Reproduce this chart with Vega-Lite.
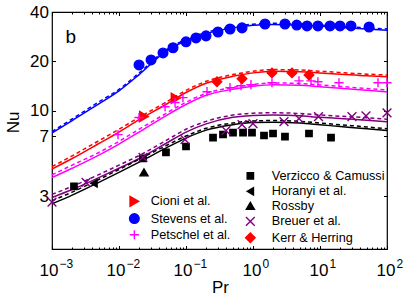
{
  "$schema": "https://vega.github.io/schema/vega-lite/v6.json",
  "width": 335,
  "height": 237,
  "autosize": {"type": "none"},
  "padding": {"left": 52, "top": 12, "right": 20, "bottom": 56},
  "config": {
    "font": "Liberation Sans",
    "view": {"stroke": "black", "strokeWidth": 1.2},
    "axis": {"domain": false, "grid": false, "tickColor": "black", "tickWidth": 1, "labelColor": "black", "titleColor": "black", "labelFont": "Liberation Sans", "titleFont": "Liberation Sans", "labelOverlap": false, "labelFlush": false, "labelBound": false}
  },
  "datasets": {
    "curves": [
      {"Pr": 0.001, "Nu": 7.3, "curve": "c1", "model": "A"}, {"Pr": 0.002, "Nu": 8.7, "curve": "c1", "model": "A"}, {"Pr": 0.005, "Nu": 11.0, "curve": "c1", "model": "A"}, {"Pr": 0.01, "Nu": 13.2, "curve": "c1", "model": "A"}, {"Pr": 0.02, "Nu": 16.6, "curve": "c1", "model": "A"}, {"Pr": 0.05, "Nu": 23.0, "curve": "c1", "model": "A"}, {"Pr": 0.1, "Nu": 26.8, "curve": "c1", "model": "A"}, {"Pr": 0.2, "Nu": 29.5, "curve": "c1", "model": "A"}, {"Pr": 0.5, "Nu": 32.0, "curve": "c1", "model": "A"}, {"Pr": 1, "Nu": 33.2, "curve": "c1", "model": "A"}, {"Pr": 2, "Nu": 33.6, "curve": "c1", "model": "A"}, {"Pr": 5, "Nu": 33.3, "curve": "c1", "model": "A"}, {"Pr": 10, "Nu": 32.8, "curve": "c1", "model": "A"}, {"Pr": 20, "Nu": 32.2, "curve": "c1", "model": "A"}, {"Pr": 50, "Nu": 31.5, "curve": "c1", "model": "A"}, {"Pr": 100, "Nu": 31.0, "curve": "c1", "model": "A"},
      {"Pr": 0.001, "Nu": 7.45, "curve": "c1", "model": "B"}, {"Pr": 0.002, "Nu": 8.9, "curve": "c1", "model": "B"}, {"Pr": 0.005, "Nu": 11.3, "curve": "c1", "model": "B"}, {"Pr": 0.01, "Nu": 13.5, "curve": "c1", "model": "B"}, {"Pr": 0.02, "Nu": 17.0, "curve": "c1", "model": "B"}, {"Pr": 0.05, "Nu": 23.4, "curve": "c1", "model": "B"}, {"Pr": 0.1, "Nu": 27.2, "curve": "c1", "model": "B"}, {"Pr": 0.2, "Nu": 30.0, "curve": "c1", "model": "B"}, {"Pr": 0.5, "Nu": 32.5, "curve": "c1", "model": "B"}, {"Pr": 1, "Nu": 33.7, "curve": "c1", "model": "B"}, {"Pr": 2, "Nu": 34.1, "curve": "c1", "model": "B"}, {"Pr": 5, "Nu": 33.8, "curve": "c1", "model": "B"}, {"Pr": 10, "Nu": 33.3, "curve": "c1", "model": "B"}, {"Pr": 20, "Nu": 32.7, "curve": "c1", "model": "B"}, {"Pr": 50, "Nu": 32.0, "curve": "c1", "model": "B"}, {"Pr": 100, "Nu": 31.5, "curve": "c1", "model": "B"},
      {"Pr": 0.001, "Nu": 4.4, "curve": "c2", "model": "A"}, {"Pr": 0.002, "Nu": 5.1, "curve": "c2", "model": "A"}, {"Pr": 0.005, "Nu": 6.3, "curve": "c2", "model": "A"}, {"Pr": 0.01, "Nu": 7.4, "curve": "c2", "model": "A"}, {"Pr": 0.02, "Nu": 8.8, "curve": "c2", "model": "A"}, {"Pr": 0.05, "Nu": 10.9, "curve": "c2", "model": "A"}, {"Pr": 0.1, "Nu": 12.9, "curve": "c2", "model": "A"}, {"Pr": 0.2, "Nu": 14.7, "curve": "c2", "model": "A"}, {"Pr": 0.5, "Nu": 16.2, "curve": "c2", "model": "A"}, {"Pr": 1, "Nu": 17.0, "curve": "c2", "model": "A"}, {"Pr": 2, "Nu": 17.4, "curve": "c2", "model": "A"}, {"Pr": 5, "Nu": 17.3, "curve": "c2", "model": "A"}, {"Pr": 10, "Nu": 17.0, "curve": "c2", "model": "A"}, {"Pr": 20, "Nu": 16.7, "curve": "c2", "model": "A"}, {"Pr": 50, "Nu": 16.3, "curve": "c2", "model": "A"}, {"Pr": 100, "Nu": 16.1, "curve": "c2", "model": "A"},
      {"Pr": 0.001, "Nu": 4.55, "curve": "c2", "model": "B"}, {"Pr": 0.002, "Nu": 5.3, "curve": "c2", "model": "B"}, {"Pr": 0.005, "Nu": 6.55, "curve": "c2", "model": "B"}, {"Pr": 0.01, "Nu": 7.7, "curve": "c2", "model": "B"}, {"Pr": 0.02, "Nu": 9.1, "curve": "c2", "model": "B"}, {"Pr": 0.05, "Nu": 11.25, "curve": "c2", "model": "B"}, {"Pr": 0.1, "Nu": 13.3, "curve": "c2", "model": "B"}, {"Pr": 0.2, "Nu": 15.1, "curve": "c2", "model": "B"}, {"Pr": 0.5, "Nu": 16.6, "curve": "c2", "model": "B"}, {"Pr": 1, "Nu": 17.4, "curve": "c2", "model": "B"}, {"Pr": 2, "Nu": 17.8, "curve": "c2", "model": "B"}, {"Pr": 5, "Nu": 17.7, "curve": "c2", "model": "B"}, {"Pr": 10, "Nu": 17.4, "curve": "c2", "model": "B"}, {"Pr": 20, "Nu": 17.1, "curve": "c2", "model": "B"}, {"Pr": 50, "Nu": 16.7, "curve": "c2", "model": "B"}, {"Pr": 100, "Nu": 16.5, "curve": "c2", "model": "B"},
      {"Pr": 0.001, "Nu": 3.9, "curve": "c3", "model": "A"}, {"Pr": 0.002, "Nu": 4.45, "curve": "c3", "model": "A"}, {"Pr": 0.005, "Nu": 5.35, "curve": "c3", "model": "A"}, {"Pr": 0.01, "Nu": 6.25, "curve": "c3", "model": "A"}, {"Pr": 0.02, "Nu": 7.4, "curve": "c3", "model": "A"}, {"Pr": 0.05, "Nu": 9.3, "curve": "c3", "model": "A"}, {"Pr": 0.1, "Nu": 10.9, "curve": "c3", "model": "A"}, {"Pr": 0.2, "Nu": 12.4, "curve": "c3", "model": "A"}, {"Pr": 0.5, "Nu": 13.5, "curve": "c3", "model": "A"}, {"Pr": 1, "Nu": 14.1, "curve": "c3", "model": "A"}, {"Pr": 2, "Nu": 14.4, "curve": "c3", "model": "A"}, {"Pr": 5, "Nu": 14.3, "curve": "c3", "model": "A"}, {"Pr": 10, "Nu": 14.0, "curve": "c3", "model": "A"}, {"Pr": 20, "Nu": 13.7, "curve": "c3", "model": "A"}, {"Pr": 50, "Nu": 13.3, "curve": "c3", "model": "A"}, {"Pr": 100, "Nu": 13.0, "curve": "c3", "model": "A"},
      {"Pr": 0.001, "Nu": 4.05, "curve": "c3", "model": "B"}, {"Pr": 0.002, "Nu": 4.65, "curve": "c3", "model": "B"}, {"Pr": 0.005, "Nu": 5.55, "curve": "c3", "model": "B"}, {"Pr": 0.01, "Nu": 6.5, "curve": "c3", "model": "B"}, {"Pr": 0.02, "Nu": 7.7, "curve": "c3", "model": "B"}, {"Pr": 0.05, "Nu": 9.6, "curve": "c3", "model": "B"}, {"Pr": 0.1, "Nu": 11.25, "curve": "c3", "model": "B"}, {"Pr": 0.2, "Nu": 12.75, "curve": "c3", "model": "B"}, {"Pr": 0.5, "Nu": 13.85, "curve": "c3", "model": "B"}, {"Pr": 1, "Nu": 14.45, "curve": "c3", "model": "B"}, {"Pr": 2, "Nu": 14.75, "curve": "c3", "model": "B"}, {"Pr": 5, "Nu": 14.65, "curve": "c3", "model": "B"}, {"Pr": 10, "Nu": 14.35, "curve": "c3", "model": "B"}, {"Pr": 20, "Nu": 14.05, "curve": "c3", "model": "B"}, {"Pr": 50, "Nu": 13.65, "curve": "c3", "model": "B"}, {"Pr": 100, "Nu": 13.35, "curve": "c3", "model": "B"},
      {"Pr": 0.001, "Nu": 2.95, "curve": "c4", "model": "A"}, {"Pr": 0.002, "Nu": 3.3, "curve": "c4", "model": "A"}, {"Pr": 0.005, "Nu": 3.9, "curve": "c4", "model": "A"}, {"Pr": 0.01, "Nu": 4.45, "curve": "c4", "model": "A"}, {"Pr": 0.02, "Nu": 5.1, "curve": "c4", "model": "A"}, {"Pr": 0.05, "Nu": 6.3, "curve": "c4", "model": "A"}, {"Pr": 0.1, "Nu": 7.4, "curve": "c4", "model": "A"}, {"Pr": 0.2, "Nu": 8.3, "curve": "c4", "model": "A"}, {"Pr": 0.5, "Nu": 9.1, "curve": "c4", "model": "A"}, {"Pr": 1, "Nu": 9.35, "curve": "c4", "model": "A"}, {"Pr": 2, "Nu": 9.4, "curve": "c4", "model": "A"}, {"Pr": 5, "Nu": 9.3, "curve": "c4", "model": "A"}, {"Pr": 10, "Nu": 9.1, "curve": "c4", "model": "A"}, {"Pr": 20, "Nu": 8.95, "curve": "c4", "model": "A"}, {"Pr": 50, "Nu": 8.75, "curve": "c4", "model": "A"}, {"Pr": 100, "Nu": 8.55, "curve": "c4", "model": "A"},
      {"Pr": 0.001, "Nu": 3.08, "curve": "c4", "model": "B"}, {"Pr": 0.002, "Nu": 3.45, "curve": "c4", "model": "B"}, {"Pr": 0.005, "Nu": 4.07, "curve": "c4", "model": "B"}, {"Pr": 0.01, "Nu": 4.65, "curve": "c4", "model": "B"}, {"Pr": 0.02, "Nu": 5.32, "curve": "c4", "model": "B"}, {"Pr": 0.05, "Nu": 6.55, "curve": "c4", "model": "B"}, {"Pr": 0.1, "Nu": 7.7, "curve": "c4", "model": "B"}, {"Pr": 0.2, "Nu": 8.6, "curve": "c4", "model": "B"}, {"Pr": 0.5, "Nu": 9.4, "curve": "c4", "model": "B"}, {"Pr": 1, "Nu": 9.65, "curve": "c4", "model": "B"}, {"Pr": 2, "Nu": 9.7, "curve": "c4", "model": "B"}, {"Pr": 5, "Nu": 9.6, "curve": "c4", "model": "B"}, {"Pr": 10, "Nu": 9.4, "curve": "c4", "model": "B"}, {"Pr": 20, "Nu": 9.25, "curve": "c4", "model": "B"}, {"Pr": 50, "Nu": 9.05, "curve": "c4", "model": "B"}, {"Pr": 100, "Nu": 8.85, "curve": "c4", "model": "B"},
      {"Pr": 0.001, "Nu": 2.7, "curve": "c5", "model": "A"}, {"Pr": 0.002, "Nu": 3.05, "curve": "c5", "model": "A"}, {"Pr": 0.005, "Nu": 3.65, "curve": "c5", "model": "A"}, {"Pr": 0.01, "Nu": 4.2, "curve": "c5", "model": "A"}, {"Pr": 0.02, "Nu": 4.85, "curve": "c5", "model": "A"}, {"Pr": 0.05, "Nu": 5.9, "curve": "c5", "model": "A"}, {"Pr": 0.1, "Nu": 6.8, "curve": "c5", "model": "A"}, {"Pr": 0.2, "Nu": 7.6, "curve": "c5", "model": "A"}, {"Pr": 0.5, "Nu": 8.2, "curve": "c5", "model": "A"}, {"Pr": 1, "Nu": 8.45, "curve": "c5", "model": "A"}, {"Pr": 2, "Nu": 8.5, "curve": "c5", "model": "A"}, {"Pr": 5, "Nu": 8.4, "curve": "c5", "model": "A"}, {"Pr": 10, "Nu": 8.2, "curve": "c5", "model": "A"}, {"Pr": 20, "Nu": 8.0, "curve": "c5", "model": "A"}, {"Pr": 50, "Nu": 7.75, "curve": "c5", "model": "A"}, {"Pr": 100, "Nu": 7.55, "curve": "c5", "model": "A"},
      {"Pr": 0.001, "Nu": 2.82, "curve": "c5", "model": "B"}, {"Pr": 0.002, "Nu": 3.18, "curve": "c5", "model": "B"}, {"Pr": 0.005, "Nu": 3.8, "curve": "c5", "model": "B"}, {"Pr": 0.01, "Nu": 4.37, "curve": "c5", "model": "B"}, {"Pr": 0.02, "Nu": 5.05, "curve": "c5", "model": "B"}, {"Pr": 0.05, "Nu": 6.1, "curve": "c5", "model": "B"}, {"Pr": 0.1, "Nu": 7.0, "curve": "c5", "model": "B"}, {"Pr": 0.2, "Nu": 7.8, "curve": "c5", "model": "B"}, {"Pr": 0.5, "Nu": 8.4, "curve": "c5", "model": "B"}, {"Pr": 1, "Nu": 8.65, "curve": "c5", "model": "B"}, {"Pr": 2, "Nu": 8.7, "curve": "c5", "model": "B"}, {"Pr": 5, "Nu": 8.6, "curve": "c5", "model": "B"}, {"Pr": 10, "Nu": 8.4, "curve": "c5", "model": "B"}, {"Pr": 20, "Nu": 8.2, "curve": "c5", "model": "B"}, {"Pr": 50, "Nu": 7.95, "curve": "c5", "model": "B"}, {"Pr": 100, "Nu": 7.75, "curve": "c5", "model": "B"}
    ],
    "ptsA": [
      {"Pr": 0.0236, "Nu": 9.2, "src": "Cioni et al."}, {"Pr": 0.07, "Nu": 11.9, "src": "Cioni et al."},
      {"Pr": 0.0199, "Nu": 19.0, "src": "Stevens et al."}, {"Pr": 0.0301, "Nu": 20.4, "src": "Stevens et al."}, {"Pr": 0.0454, "Nu": 22.5, "src": "Stevens et al."}, {"Pr": 0.064, "Nu": 24.2, "src": "Stevens et al."}, {"Pr": 0.1, "Nu": 26.3, "src": "Stevens et al."}, {"Pr": 0.141, "Nu": 27.8, "src": "Stevens et al."}, {"Pr": 0.199, "Nu": 28.6, "src": "Stevens et al."}, {"Pr": 0.3, "Nu": 30.2, "src": "Stevens et al."}, {"Pr": 0.454, "Nu": 31.5, "src": "Stevens et al."}, {"Pr": 0.686, "Nu": 32.0, "src": "Stevens et al."}, {"Pr": 1.51, "Nu": 33.8, "src": "Stevens et al."}, {"Pr": 3.0, "Nu": 33.8, "src": "Stevens et al."}, {"Pr": 4.5, "Nu": 33.3, "src": "Stevens et al."}, {"Pr": 6.4, "Nu": 32.9, "src": "Stevens et al."}, {"Pr": 9.3, "Nu": 32.9, "src": "Stevens et al."}, {"Pr": 14.1, "Nu": 32.9, "src": "Stevens et al."}, {"Pr": 19.9, "Nu": 32.9, "src": "Stevens et al."}, {"Pr": 29, "Nu": 32.9, "src": "Stevens et al."}, {"Pr": 54, "Nu": 32.4, "src": "Stevens et al."},
      {"Pr": 0.00966, "Nu": 7.14, "src": "Petschel et al."}, {"Pr": 0.0199, "Nu": 9.07, "src": "Petschel et al."}, {"Pr": 0.0487, "Nu": 10.57, "src": "Petschel et al."}, {"Pr": 0.0686, "Nu": 11.2, "src": "Petschel et al."}, {"Pr": 0.09, "Nu": 12.0, "src": "Petschel et al."}, {"Pr": 0.206, "Nu": 13.05, "src": "Petschel et al."}, {"Pr": 0.454, "Nu": 13.8, "src": "Petschel et al."}, {"Pr": 0.662, "Nu": 14.2, "src": "Petschel et al."}, {"Pr": 0.933, "Nu": 14.4, "src": "Petschel et al."}, {"Pr": 1.92, "Nu": 14.8, "src": "Petschel et al."}, {"Pr": 4.86, "Nu": 15.2, "src": "Petschel et al."}, {"Pr": 7.34, "Nu": 15.2, "src": "Petschel et al."}, {"Pr": 9.3, "Nu": 15.0, "src": "Petschel et al."}, {"Pr": 19.2, "Nu": 14.8, "src": "Petschel et al."}, {"Pr": 73.4, "Nu": 14.8, "src": "Petschel et al."}, {"Pr": 100, "Nu": 14.8, "src": "Petschel et al."}
    ],
    "ptsB": [
      {"Pr": 0.00213, "Nu": 3.45, "src": "Verzicco & Camussi"}, {"Pr": 0.0228, "Nu": 5.11, "src": "Verzicco & Camussi"}, {"Pr": 0.0502, "Nu": 5.56, "src": "Verzicco & Camussi"}, {"Pr": 0.1, "Nu": 6.04, "src": "Verzicco & Camussi"}, {"Pr": 0.253, "Nu": 6.85, "src": "Verzicco & Camussi"}, {"Pr": 0.357, "Nu": 7.15, "src": "Verzicco & Camussi"}, {"Pr": 0.503, "Nu": 7.35, "src": "Verzicco & Camussi"}, {"Pr": 0.71, "Nu": 7.35, "src": "Verzicco & Camussi"}, {"Pr": 0.966, "Nu": 7.35, "src": "Verzicco & Camussi"}, {"Pr": 1.46, "Nu": 7.05, "src": "Verzicco & Camussi"}, {"Pr": 1.99, "Nu": 7.25, "src": "Verzicco & Camussi"}, {"Pr": 3.0, "Nu": 6.95, "src": "Verzicco & Camussi"}, {"Pr": 6.85, "Nu": 7.25, "src": "Verzicco & Camussi"}, {"Pr": 14.6, "Nu": 6.85, "src": "Verzicco & Camussi"},
      {"Pr": 0.00423, "Nu": 3.6, "src": "Horanyi et al."},
      {"Pr": 0.0236, "Nu": 4.2, "src": "Rossby"},
      {"Pr": 0.001, "Nu": 2.76, "src": "Breuer et al."}, {"Pr": 0.00322, "Nu": 3.65, "src": "Breuer et al."}, {"Pr": 0.0228, "Nu": 5.18, "src": "Breuer et al."}, {"Pr": 0.0966, "Nu": 6.66, "src": "Breuer et al."}, {"Pr": 0.395, "Nu": 7.55, "src": "Breuer et al."}, {"Pr": 0.686, "Nu": 8.22, "src": "Breuer et al."}, {"Pr": 1.0, "Nu": 8.34, "src": "Breuer et al."}, {"Pr": 2.9, "Nu": 8.57, "src": "Breuer et al."}, {"Pr": 4.86, "Nu": 8.94, "src": "Breuer et al."}, {"Pr": 9.5, "Nu": 9.2, "src": "Breuer et al."}, {"Pr": 30, "Nu": 9.2, "src": "Breuer et al."}, {"Pr": 48.6, "Nu": 9.3, "src": "Breuer et al."}, {"Pr": 100, "Nu": 9.7, "src": "Breuer et al."},
      {"Pr": 0.29, "Nu": 15.0, "src": "Kerr & Herring"}, {"Pr": 0.686, "Nu": 15.65, "src": "Kerr & Herring"}, {"Pr": 1.92, "Nu": 17.0, "src": "Kerr & Herring"}, {"Pr": 3.82, "Nu": 17.0, "src": "Kerr & Herring"}, {"Pr": 6.85, "Nu": 16.5, "src": "Kerr & Herring"}
    ]
  },
  "resolve": {
    "scale": {"fill": "independent", "stroke": "independent", "shape": "independent", "size": "independent"},
    "axis": {"x": "independent", "y": "independent"}
  },
  "layer": [
    {
      "data": {"name": "curves"},
      "transform": [{"filter": "datum.model == 'A'"}],
      "mark": {"type": "line", "strokeWidth": 1.5, "interpolate": "monotone", "clip": true},
      "encoding": {
        "x": {"field": "Pr", "type": "quantitative", "scale": {"type": "log", "domain": [0.001, 100], "nice": false},
          "axis": {"orient": "bottom", "values": [0.001, 0.01, 0.1, 1, 10, 100], "labelExpr": "'10'", "tickSize": -3.5, "labelPadding": 29.5, "labelBaseline": "alphabetic", "labelAlign": "right", "labelOffset": {"condition": {"test": "datum.value < 1", "value": 6}, "value": 8}, "labelFontSize": 17, "title": "Pr", "titleFontSize": 17, "titleFontWeight": "normal", "titleX": 168, "titleY": 43, "titleBaseline": "alphabetic", "titleAlign": "center"}},
        "y": {"field": "Nu", "type": "quantitative", "scale": {"type": "log", "domain": [1.43, 40], "nice": false},
          "axis": {"orient": "left", "values": [3, 7, 10, 20, 40], "tickSize": -3.5, "labelPadding": 7, "labelFontSize": 17, "title": "Nu", "titleFontSize": 17, "titleFontWeight": "normal", "titleX": -34, "titleY": 110, "titleBaseline": "alphabetic", "titleAlign": "center"}},
        "color": {"field": "curve", "type": "nominal", "scale": {"domain": ["c1", "c2", "c3", "c4", "c5"], "range": ["#0000ff", "#ff0000", "#ff00ff", "#800080", "#000000"]}, "legend": null}
      }
    },
    {
      "data": {"name": "curves"},
      "transform": [{"filter": "datum.model == 'B' && (datum.curve == 'c1' || datum.curve == 'c2' || datum.curve == 'c3')"}],
      "mark": {"type": "line", "strokeWidth": 1.5, "interpolate": "monotone", "strokeDash": [4, 3], "clip": true},
      "encoding": {
        "x": {"field": "Pr", "type": "quantitative",
          "axis": {"orient": "bottom", "values": [0.001, 0.01, 0.1, 1, 10, 100], "ticks": false, "domain": false, "labelExpr": "datum.value < 1 ? '−' + round(-log(datum.value) / LN10) : '' + round(log(datum.value) / LN10)", "labelPadding": 18, "labelBaseline": "alphabetic", "labelAlign": "left", "labelOffset": {"condition": {"test": "datum.value < 1", "value": 7}, "value": 9}, "labelFontSize": 12, "title": null}},
        "y": {"field": "Nu", "type": "quantitative",
          "axis": {"orient": "right", "values": [3, 7, 10, 20, 40], "tickSize": -3.5, "labels": false, "title": null}},
        "color": {"field": "curve", "type": "nominal", "legend": null}
      }
    },
    {
      "data": {"name": "curves"},
      "transform": [{"filter": "datum.model == 'B' && (datum.curve == 'c4' || datum.curve == 'c5')"}],
      "mark": {"type": "line", "strokeWidth": 1.5, "interpolate": "monotone", "strokeDash": [4, 3], "clip": true},
      "encoding": {
        "x": {"field": "Pr", "type": "quantitative",
          "axis": {"orient": "bottom", "values": [0.002, 0.003, 0.004, 0.005, 0.006, 0.007, 0.008, 0.009, 0.02, 0.03, 0.04, 0.05, 0.06, 0.07, 0.08, 0.09, 0.2, 0.3, 0.4, 0.5, 0.6, 0.7, 0.8, 0.9, 2, 3, 4, 5, 6, 7, 8, 9, 20, 30, 40, 50, 60, 70, 80, 90], "tickSize": -2, "labels": false, "title": null}},
        "y": {"field": "Nu", "type": "quantitative", "axis": null},
        "color": {"field": "curve", "type": "nominal", "legend": null}
      }
    },
    {
      "data": {"name": "ptsA"},
      "mark": {"type": "point", "strokeWidth": 1.4, "opacity": 1},
      "encoding": {
        "x": {"field": "Pr", "type": "quantitative",
          "axis": {"orient": "top", "values": [0.001, 0.01, 0.1, 1, 10, 100], "tickSize": -3.5, "labels": false, "title": "b", "titleFontSize": 19, "titleFontWeight": "normal", "titleX": 13, "titleY": 30, "titleAlign": "left", "titleBaseline": "alphabetic", "titleAngle": 0}},
        "y": {"field": "Nu", "type": "quantitative", "axis": null},
        "fill": {"field": "src", "type": "nominal", "scale": {"domain": ["Cioni et al.", "Stevens et al.", "Petschel et al."], "range": ["#ff0000", "#0000ff", "transparent"]}},
        "stroke": {"field": "src", "type": "nominal", "scale": {"domain": ["Cioni et al.", "Stevens et al.", "Petschel et al."], "range": ["#ff0000", "#0000ff", "#ff00ff"]}},
        "size": {"field": "src", "type": "nominal", "scale": {"domain": ["Cioni et al.", "Stevens et al.", "Petschel et al."], "range": [100, 85, 70]}},
        "shape": {"field": "src", "type": "nominal", "scale": {"domain": ["Cioni et al.", "Stevens et al.", "Petschel et al."], "range": ["triangle-right", "circle", "M-1,0H1M0,-1V1"]},
          "legend": {"orient": "none", "legendX": 76, "legendY": 183, "title": null, "labelFontSize": 12.7, "labelFont": "Liberation Sans", "labelColor": "black", "labelOffset": 10, "rowPadding": 0.2, "padding": 0, "symbolStrokeWidth": 1.4}}
      }
    },
    {
      "data": {"name": "ptsB"},
      "mark": {"type": "point", "strokeWidth": 1.4, "opacity": 1},
      "encoding": {
        "x": {"field": "Pr", "type": "quantitative",
          "axis": {"orient": "top", "values": [0.002, 0.003, 0.004, 0.005, 0.006, 0.007, 0.008, 0.009, 0.02, 0.03, 0.04, 0.05, 0.06, 0.07, 0.08, 0.09, 0.2, 0.3, 0.4, 0.5, 0.6, 0.7, 0.8, 0.9, 2, 3, 4, 5, 6, 7, 8, 9, 20, 30, 40, 50, 60, 70, 80, 90], "tickSize": -2, "labels": false, "title": null}},
        "y": {"field": "Nu", "type": "quantitative", "axis": null},
        "fill": {"field": "src", "type": "nominal", "scale": {"domain": ["Verzicco & Camussi", "Horanyi et al.", "Rossby", "Breuer et al.", "Kerr & Herring"], "range": ["#000000", "#000000", "#000000", "transparent", "#ff0000"]}},
        "stroke": {"field": "src", "type": "nominal", "scale": {"domain": ["Verzicco & Camussi", "Horanyi et al.", "Rossby", "Breuer et al.", "Kerr & Herring"], "range": ["#000000", "#000000", "#000000", "#800080", "#ff0000"]}},
        "size": {"field": "src", "type": "nominal", "scale": {"domain": ["Verzicco & Camussi", "Horanyi et al.", "Rossby", "Breuer et al.", "Kerr & Herring"], "range": [40, 90, 100, 40, 80]}},
        "shape": {"field": "src", "type": "nominal", "scale": {"domain": ["Verzicco & Camussi", "Horanyi et al.", "Rossby", "Breuer et al.", "Kerr & Herring"], "range": ["square", "triangle-left", "triangle-up", "M-1,-1L1,1M1,-1L-1,1", "diamond"]},
          "legend": {"orient": "none", "legendX": 192, "legendY": 157.5, "title": null, "labelFontSize": 12.7, "labelFont": "Liberation Sans", "labelColor": "black", "labelOffset": 15, "rowPadding": 0.5, "padding": 0, "symbolStrokeWidth": 1.4}}
      }
    }
  ]
}
